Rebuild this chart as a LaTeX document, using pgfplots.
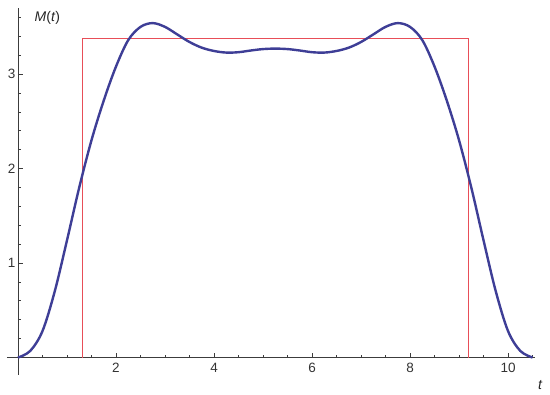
\documentclass[border=0pt]{standalone}
\usepackage{fontspec}
\setmainfont{Liberation Sans}
\usepackage{pgfplots}
\pgfplotsset{compat=1.18}

\definecolor{mblue}{RGB}{62,62,150}
\definecolor{mred}{RGB}{232,78,88}
\definecolor{axgray}{RGB}{60,60,60}

\begin{document}
\begin{tikzpicture}
\begin{axis}[
    name=ax,
    scale only axis,
    width=528pt, height=367pt,
    xmin=-0.224, xmax=10.55,
    ymin=-0.185, ymax=3.70,
    axis lines=middle,
    axis line style={-, axgray, line width=0.9pt},
    xtick={2,4,6,8,10},
    ytick={1,2,3},
    minor xtick={0.5,1,1.5,2.5,3,3.5,4.5,5,5.5,6.5,7,7.5,8.5,9,9.5,10.5},
    minor ytick={0.2,0.4,0.6,0.8,1.2,1.4,1.6,1.8,2.2,2.4,2.6,2.8,3.2,3.4,3.6},
    tick align=inside,
    major tick length=5pt, minor tick length=3pt,
    tick style={axgray, line width=0.7pt},
    ticklabel style={font=\fontsize{13.5}{15}\selectfont, text=black!80},
    /pgf/number format/assume math mode=true,
    xticklabel style={yshift=-2pt},
    yticklabel style={xshift=1pt},
    xlabel={\textit{t}},
    ylabel={\textit{M}(\textit{t})},
    xlabel style={at={(axis cs:10.66,-0.29)}, anchor=center, font=\fontsize{14}{16}\selectfont, text=black!85},
    ylabel style={at={(axis cs:0.27,3.60)}, anchor=west, rotate=0, font=\fontsize{14}{16}\selectfont, text=black!85},
    clip=false,
]
\addplot[mred, line width=1.3pt] coordinates {
    (1.32,0) (1.32,3.38) (9.2,3.38) (9.2,0)
};
\addplot[mblue, line width=2.4pt, smooth, tension=0.55] coordinates {
    (0,0) (0.25,0.07) (0.5,0.28) (0.75,0.70) (1.0,1.24) (1.25,1.80)
    (1.5,2.30) (1.75,2.72) (2.0,3.08) (2.25,3.36) (2.5,3.50) (2.75,3.54)
    (3.0,3.50) (3.25,3.42) (3.5,3.34) (3.75,3.28) (4.0,3.245) (4.25,3.228)
    (4.5,3.232) (4.75,3.25) (5.0,3.265) (5.25,3.27)
    (5.5,3.265) (5.75,3.25) (6.0,3.232) (6.25,3.228) (6.5,3.245) (6.75,3.28)
    (7.0,3.34) (7.25,3.42) (7.5,3.50) (7.75,3.54) (8.0,3.50) (8.25,3.36)
    (8.5,3.08) (8.75,2.72) (9.0,2.30) (9.25,1.80) (9.5,1.24) (9.75,0.70)
    (10.0,0.28) (10.25,0.07) (10.5,0)
};
\end{axis}
\pgfresetboundingbox
\path ([shift={(-7pt,-20pt)}]ax.south west) rectangle ([shift={(15pt,8pt)}]ax.north east);
\end{tikzpicture}
\end{document}
